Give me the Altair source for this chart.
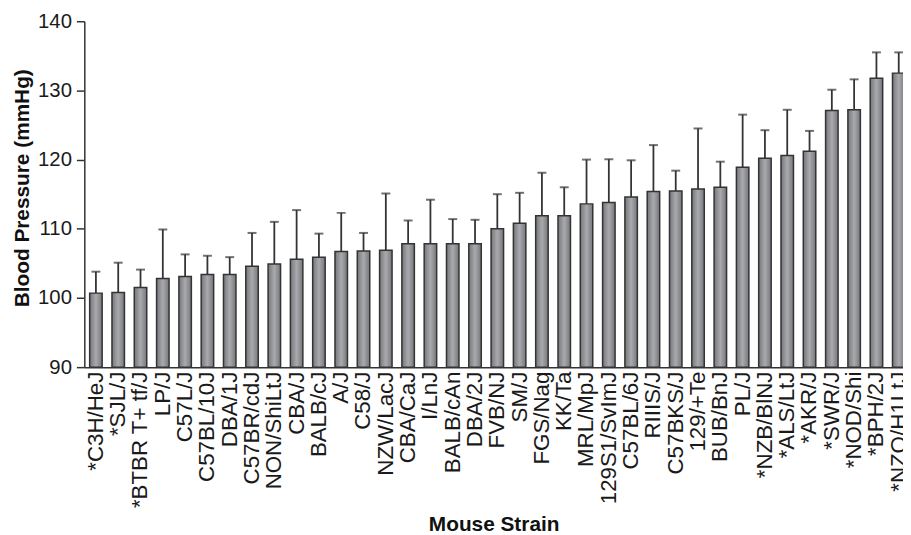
import altair as alt
import pandas as pd

strains = ["*C3H/HeJ", "*SJL/J", "*BTBR T+ tf/J", "LP/J", "C57L/J", "C57BL/10J", "DBA/1J",
           "C57BR/cdJ", "NON/ShiLtJ", "CBA/J", "BALB/cJ", "A/J", "C58/J", "NZW/LacJ",
           "CBA/CaJ", "I/LnJ", "BALB/cAn", "DBA/2J", "FVB/NJ", "SM/J", "FGS/Nag", "KK/Ta",
           "MRL/MpJ", "129S1/SvImJ", "C57BL/6J", "RIIIS/J", "C57BKS/J", "129/+Te", "BUB/BnJ",
           "PL/J", "*NZB/BlNJ", "*ALS/LtJ", "*AKR/J", "*SWR/J", "*NOD/Shi", "*BPH/2J",
           "*NZO/H1LtJ"]
bp = [100.7, 100.8, 101.5, 102.8, 103.1, 103.4, 103.4,
      104.6, 104.9, 105.6, 105.9, 106.7, 106.8, 106.9,
      107.85, 107.85, 107.85, 107.85, 110.0, 110.8, 111.9, 111.9,
      113.6, 113.8, 114.6, 115.4, 115.45, 115.75, 116.0,
      118.9, 120.2, 120.6, 121.2, 127.1, 127.2, 131.75, 132.5]
upper = [103.8, 105.1, 104.1, 109.9, 106.3, 106.1, 105.9,
         109.4, 111.0, 112.7, 109.3, 112.3, 109.4, 115.1,
         111.2, 114.2, 111.4, 111.3, 115.0, 115.2, 118.1, 116.0,
         120.0, 120.05, 119.9, 122.1, 118.4, 124.5, 119.7,
         126.5, 124.25, 127.2, 124.15, 130.1, 131.6, 135.5, 135.5]
y_ticks = [90, 100, 110, 120, 130, 140]

df = pd.DataFrame({"strain": strains, "bp": bp, "upper": upper})

FONT = "Liberation Sans"
INK = "#333333"

x_enc = alt.X(
    "strain:N", sort=strains,
    scale=alt.Scale(range=[0, 833.4], paddingInner=0.44, paddingOuter=0.24),
    axis=alt.Axis(
        title="Mouse Strain", labelAngle=-90, labelAlign="right", labelBaseline="middle",
        labelFont=FONT, labelFontSize=22.5, labelColor="#1a1a1a", labelPadding=4,
        ticks=False, domainColor=INK, domainWidth=1.5,
        titleFont=FONT, titleFontSize=21, titleFontWeight="bold", titleColor="#111111",
        titleX=413, titleY=165, titleAlign="center", titleBaseline="alphabetic",
    ),
)
y_scale = alt.Scale(domain=[90, 140], nice=False, zero=False)
y_axis = alt.Axis(
    values=y_ticks, grid=False, tickSize=8, tickWidth=1.5, tickColor=INK,
    domainColor=INK, domainWidth=1.5,
    labelFont=FONT, labelFontSize=20.5, labelColor="#1a1a1a", labelPadding=5,
    title="Blood Pressure (mmHg)", titleFont=FONT, titleFontSize=21,
    titleFontWeight="bold", titleColor="#111111",
    titleX=-62, titleY=168, titleAngle=270, titleAlign="center", titleBaseline="middle",
)

base = alt.Chart(df)

rules = base.mark_rule(color=INK, strokeWidth=1.8).encode(
    x=x_enc, y=alt.Y("bp:Q", scale=y_scale, axis=y_axis), y2="upper:Q"
)
caps = base.mark_tick(color=INK, size=9, thickness=2).encode(
    x=x_enc, y=alt.Y("upper:Q", scale=y_scale, axis=y_axis)
)
grad = alt.Gradient(
    gradient="linear", x1=0, x2=1, y1=0, y2=0,
    stops=[alt.GradientStop(color="#76777b", offset=0),
           alt.GradientStop(color="#a9aaae", offset=0.5),
           alt.GradientStop(color="#76777b", offset=1)],
)
bars = base.mark_bar(color=grad, stroke=INK, strokeWidth=1.5).encode(
    x=x_enc, y=alt.Y("bp:Q", scale=y_scale, axis=y_axis), y2=alt.datum(90)
)

chart = (
    alt.layer(rules, caps, bars)
    .properties(
        width=826, height=349,
        padding={"left": 77, "top": 11, "right": 0, "bottom": 167},
        autosize=alt.AutoSizeParams(type="none"),
        background="white",
    )
    .configure_view(stroke=None)
)

chart.save("out.html", embed_options={"renderer": "svg", "actions": False})
